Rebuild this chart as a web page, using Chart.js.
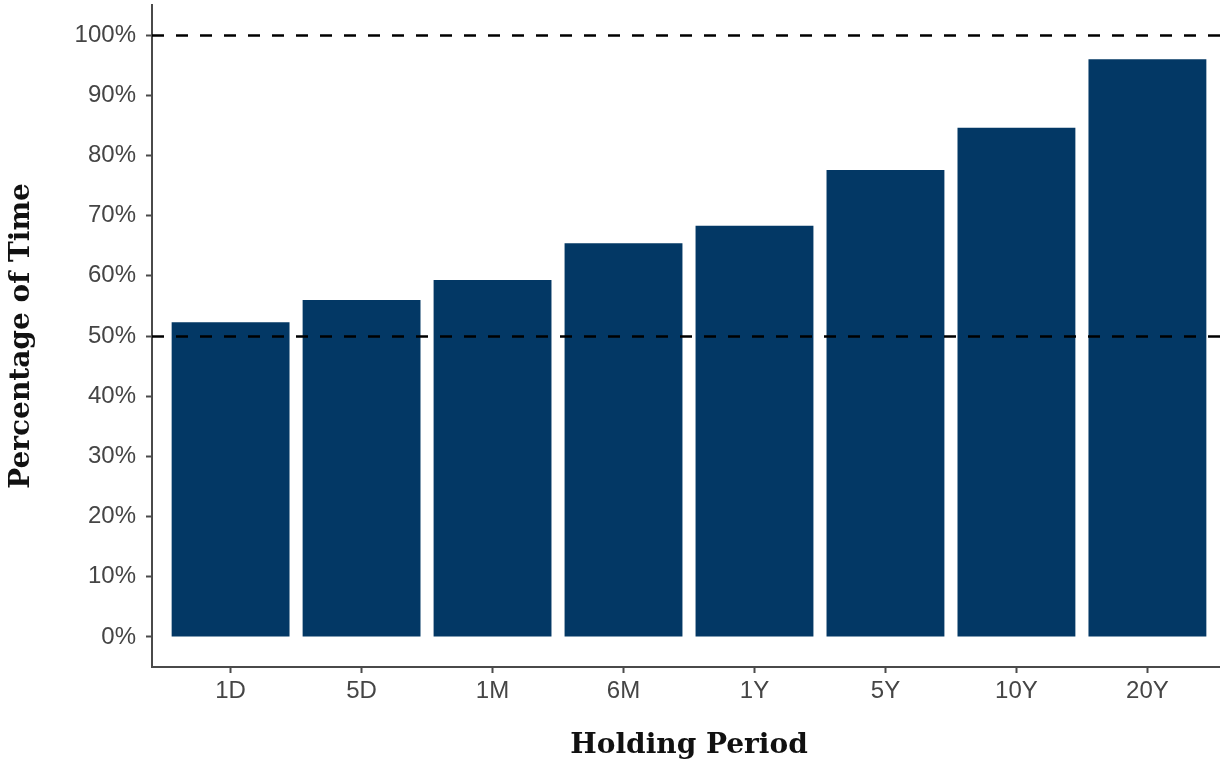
<!DOCTYPE html>
<html>
<head>
<meta charset="utf-8">
<script src="https://cdn.jsdelivr.net/npm/chart.js@4.4.1/dist/chart.umd.min.js"></script>
<style>
  html, body { margin: 0; padding: 0; background: #fff; overflow: hidden; }
  #wrap { width: 1226px; height: 768px; }
</style>
</head>
<body>
<div id="wrap"><canvas id="grafico"></canvas></div>
<script>
// dados
const periodos = ["1D", "5D", "1M", "6M", "1Y", "5Y", "10Y", "20Y"];
const percentuais = [52.3, 56.0, 59.3, 65.4, 68.3, 77.6, 84.6, 96.0];
const ticksY = [0, 10, 20, 30, 40, 50, 60, 70, 80, 90, 100];
const linhasRef = [50, 100];

const corTick = "#454545";
const corEixo = "#4a4a4a";

// linhas tracejadas de referência (50% e 100%)
const linhasTracejadas = {
    id: "linhasTracejadas",
    afterDatasetsDraw(chart) {
        const ctx = chart.ctx;
        const area = chart.chartArea;
        const y = chart.scales.y;
        ctx.save();
        ctx.strokeStyle = "#000";
        ctx.lineWidth = 2.5;
        ctx.setLineDash([12, 12]);
        linhasRef.forEach(v => {
            const py = Math.round(y.getPixelForValue(v)) + 0.5;
            ctx.beginPath();
            ctx.moveTo(area.left, py);
            ctx.lineTo(area.right, py);
            ctx.stroke();
        });
        ctx.restore();
    }
};

const ctx = document.getElementById("grafico").getContext("2d");
new Chart(ctx, {
    type: "bar",
    data: {
        datasets: [{
            data: periodos.map((p, i) => ({ x: i, y: percentuais[i] })),
            backgroundColor: "#033865",
            borderWidth: 0,
            barPercentage: 0.9,
            categoryPercentage: 1.0
        }]
    },
    options: {
        responsive: true,
        maintainAspectRatio: false,
        animation: false,
        layout: { padding: { top: 5, right: 0, bottom: 0, left: 0 } },
        plugins: {
            legend: { display: false },
            tooltip: { enabled: false }
        },
        scales: {
            x: {
                type: "linear",
                min: -0.6,
                max: 7.6,
                offset: false,
                afterBuildTicks: s => { s.ticks = periodos.map((p, i) => ({ value: i })); },
                afterFit: s => { s.height = 101; s.paddingLeft = 0; s.paddingRight = 0; },
                ticks: {
                    callback: v => periodos[v],
                    color: corTick,
                    font: { family: "'Liberation Sans', Arial, sans-serif", size: 24 },
                    padding: 4,
                    maxRotation: 0
                },
                grid: { offset: false, drawOnChartArea: false, tickLength: 6, tickWidth: 2, tickColor: corEixo },
                border: { color: corEixo, width: 2 },
                title: {
                    display: true,
                    text: "Holding Period",
                    color: "#111",
                    font: { family: "'DejaVu Serif', serif", size: 28, weight: "bold" },
                    padding: { top: 0, bottom: 5 }
                }
            },
            y: {
                min: -5,
                max: 105,
                afterBuildTicks: s => { s.ticks = ticksY.map(v => ({ value: v })); },
                afterFit: s => { s.width = 152; s.paddingTop = 0; s.paddingBottom = 0; },
                ticks: {
                    callback: v => v + "%",
                    color: corTick,
                    font: { family: "'Liberation Sans', Arial, sans-serif", size: 24 },
                    padding: 10
                },
                grid: { drawOnChartArea: false, tickLength: 6, tickWidth: 2, tickColor: corEixo },
                border: { color: corEixo, width: 2 },
                title: {
                    display: true,
                    text: "Percentage of Time",
                    color: "#111",
                    font: { family: "'DejaVu Serif', serif", size: 28, weight: "bold" },
                    padding: { top: 5, bottom: 0 }
                }
            }
        }
    },
    plugins: [linhasTracejadas]
});
</script>
</body>
</html>
